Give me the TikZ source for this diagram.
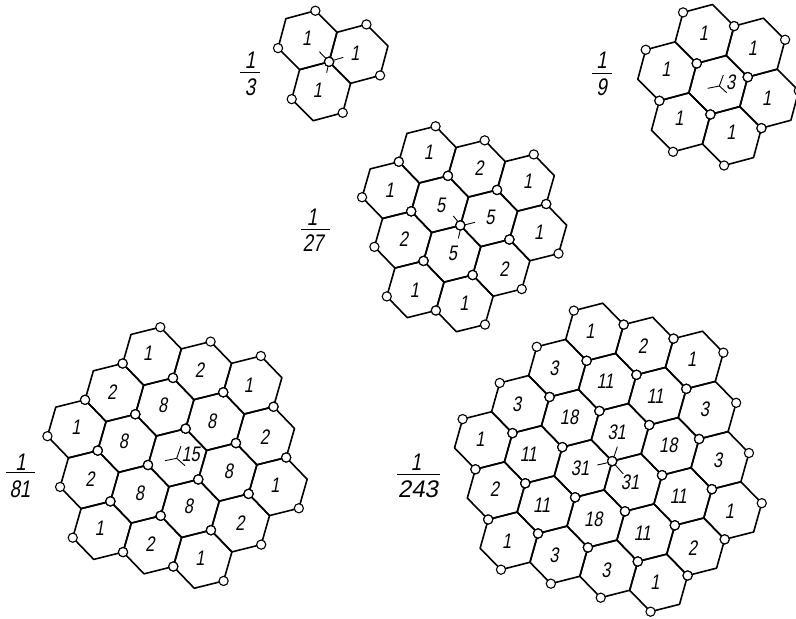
\documentclass[tikz,border=0pt]{standalone}
\usepackage{fontspec}
\setmainfont[FakeSlant=0.18,FakeStretch=0.78]{Liberation Sans}
\newfontfamily\widefig[FakeSlant=0.18,FakeStretch=1.0]{Liberation Sans}
\tikzset{
  hexline/.style={line width=1.6pt,line join=round,black},
  tick/.style={line width=0.9pt,black},
  fracbar/.style={line width=1pt,black},
  vtx/.style={circle,draw=black,fill=white,line width=1.1pt,minimum size=9.2pt,inner sep=0pt},
  lbl/.style={inner sep=0pt,font=\fontsize{21}{22}\selectfont,black},
  fraclbl/.style={inner sep=0pt,font=\fontsize{24}{25}\selectfont,black}
}
% #1 cx, #2 cy, #3 edge, #4 angle, #5 first circled vertex angle, #6 i/j list
\newcommand{\hexpatch}[6]{%
  \pgfmathsetmacro{\hT}{1.73205*#3}%
  \foreach \i/\j in {#6} {%
    \pgfmathsetmacro{\hx}{#1+\i*\hT*cos(#4)+\j*\hT*cos(#4+60)}%
    \pgfmathsetmacro{\hy}{#2+\i*\hT*sin(#4)+\j*\hT*sin(#4+60)}%
    \begin{scope}[shift={(\hx,\hy)}]
      \draw[hexline] (#4-30:#3) -- (#4+30:#3) -- (#4+90:#3) -- (#4+150:#3) -- (#4+210:#3) -- (#4+270:#3) -- cycle;
    \end{scope}
  }%
  \foreach \i/\j in {#6} {%
    \pgfmathsetmacro{\hx}{#1+\i*\hT*cos(#4)+\j*\hT*cos(#4+60)}%
    \pgfmathsetmacro{\hy}{#2+\i*\hT*sin(#4)+\j*\hT*sin(#4+60)}%
    \begin{scope}[shift={(\hx,\hy)}]
      \node[vtx] at (#4+#5:#3) {};
      \node[vtx] at (#4+#5+120:#3) {};
      \node[vtx] at (#4+#5+240:#3) {};
    \end{scope}
  }%
}
% #1 name, #2 x, #3 num y, #4 bar x0, #5 bar x1, #6 bar y, #7 den y, #8 den x, #9 den
\newcommand{\hfrac}[9]{%
  \node[fraclbl] (#1n) at (#2,#3) {1};
  \node[fraclbl] (#1d) at (#8,#7) {#9};
  \coordinate (#1a) at (#4,#6);
  \coordinate (#1b) at (#5,#6);
  \draw[fracbar] (#1a) -- (#1b);
}
\begin{document}
\begin{tikzpicture}[x=1pt,y=-1pt]
\useasboundingbox (0,0) rectangle (796,619);
\fill[white] (0,0) rectangle (796,619);

% ticks at the centre of each patch, beneath the hexagons and circles
\foreach \ox/\oy/\ax/\ay/\bx/\by/\cx/\cy/\dx/\dy/\nm in {
  230/0/297/185/268/155/340/172/290/218/a,
  580/0/418/258/383/265/430/225/440/278/b,
  300/115/484/332/460/303/525/322/475/370/c,
  0/315/530/430/495/437/543/393/555/452/d,
  390/295/667/500/622/510/682/455/700/537/e} {
  \coordinate (t\nm O) at ({\ox+\ax/3},{\oy+\ay/3});
  \coordinate (t\nm A) at ({\ox+\bx/3},{\oy+\by/3});
  \coordinate (t\nm B) at ({\ox+\cx/3},{\oy+\cy/3});
  \coordinate (t\nm C) at ({\ox+\dx/3},{\oy+\dy/3});
  \draw[tick] (t\nm O) -- (t\nm A);
  \draw[tick] (t\nm O) -- (t\nm B);
  \draw[tick] (t\nm O) -- (t\nm C);
}

% 1/3
\hexpatch{307.5}{40.2}{30.5}{15}{150}{0/0,1/0,0/1}
% 1/9
\hexpatch{718.3}{85}{30.5}{15}{-30}{0/0,0/-1,1/-1,1/0,0/1,-1/1,-1/0}
% 1/27
\hexpatch{439.8}{204.2}{29.5}{16}{150}{0/-1,0/0,0/1,0/2,1/-1,1/0,1/1,2/-1,2/0,-1/0,-1/1,-1/2}
% 1/81
\hexpatch{177.3}{457.7}{30.2}{16}{150}{0/-2,0/-1,0/0,0/1,0/2,1/-2,1/-1,1/0,1/1,2/-2,2/-1,2/0,-1/-1,-1/0,-1/1,-1/2,-2/0,-2/1,-2/2}
% 1/243
\hexpatch{594.7}{332}{29.9}{15.7}{-30}{0/0,0/1,0/2,0/3,0/4,0/5,1/0,1/1,1/2,1/3,1/4,2/0,2/1,2/2,2/3,-1/1,-1/2,-1/3,-1/4,-1/5,-2/2,-2/3,-2/4,-2/5,-3/3,-3/4,-3/5}

% labels
\foreach \x/\y/\t [count=\n] in {230/115/1,375/160/1,262/270/1}
  \node[lbl] (La\n) at ({230+\x/3},{0+\y/3}) {\t};
\foreach \x/\y/\t [count=\n] in {370/100/1,517/145/1,258/208/1,452/248/3,560/295/1,297/355/1,453/397/1}
  \node[lbl] (Lb\n) at ({580+\x/3},{0+\y/3}) {\t};
\foreach \x/\y/\t [count=\n] in {385/113/1,537/160/2,683/200/1,268/225/1,422/270/5,570/308/5,716/353/1,310/372/2,457/415/5,612/462/2,343/525/1,492/565/1}
  \node[lbl] (Lc\n) at ({300+\x/3},{115+\y/3}) {\t};
\foreach \x/\y/\t [count=\n] in {443/115/1,598/165/2,745/210/1,335/232/2,488/272/8,635/320/8,793/365/2,228/338/1,370/380/8,572/418/15,685/470/8,825/510/1,270/492/2,418/535/8,565/575/8,720/623/2,298/640/1,450/688/2,600/730/1}
  \node[lbl] (Ld\n) at ({0+\x/3},{315+\y/3}) {\t};
\foreach \x/\y/\t [count=\n] in {600/110/1,757/152/2,905/192/1,492/220/3,645/260/11,795/305/11,943/342/3,380/328/3,537/368/18,680/412/31,835/450/18,983/495/3,270/432/1,415/478/11,570/520/31,720/562/31,865/605/11,1018/650/1,313/583/2,455/630/11,610/672/18,757/715/11,907/760/2,350/740/1,492/782/3,648/825/3,795/862/1}
  \node[lbl] (Le\n) at ({390+\x/3},{295+\y/3}) {\t};

% fractions
\hfrac{fa}{250}{60}{240}{260}{72}{87}{250}{3}
\hfrac{fb}{601.7}{60}{592}{612}{73}{87}{601.7}{9}
\hfrac{fc}{312}{217}{300.7}{330}{229}{243}{313}{27}
\hfrac{fd}{20.7}{462}{6}{35}{472.3}{489}{20}{81}
\hfrac{fe}{416}{462}{397}{440}{474}{489}{418}{\widefig 243}
\end{tikzpicture}
\end{document}
